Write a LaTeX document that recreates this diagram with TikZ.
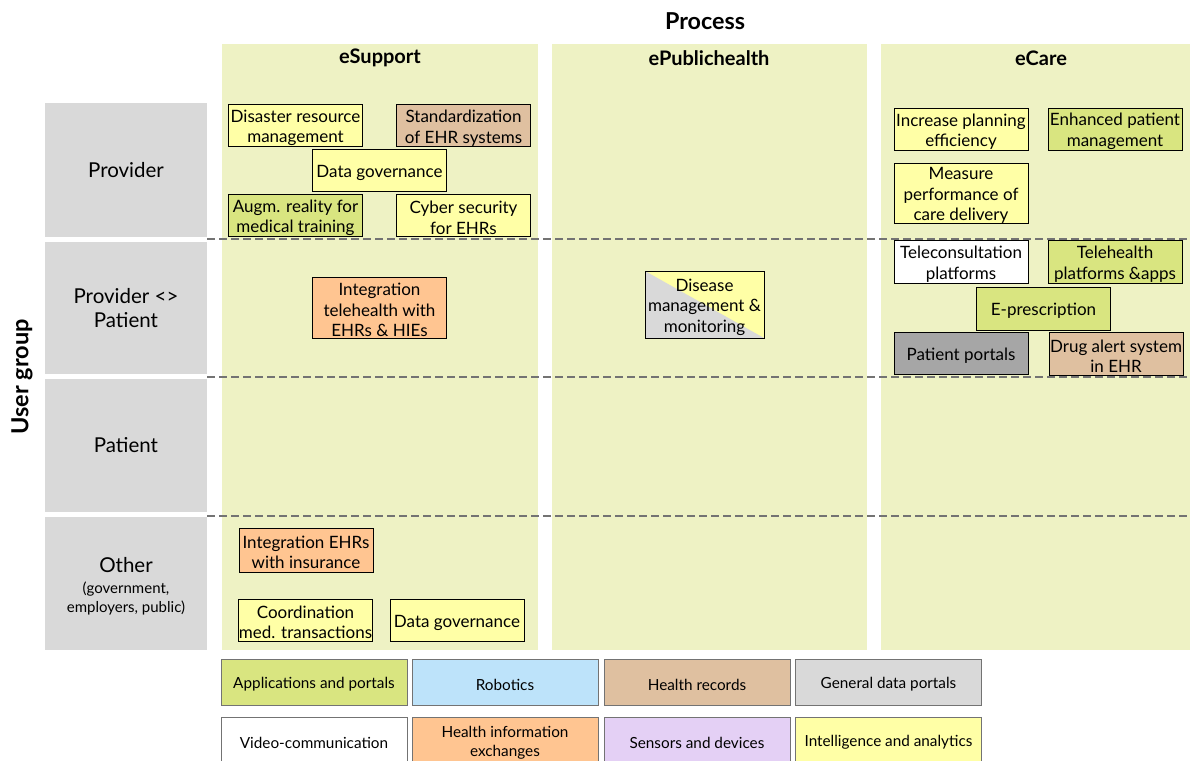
\documentclass[tikz,border=0pt]{standalone}
\usepackage{fontspec}
\setmainfont{Lato}
\begin{document}
\definecolor{panel}{RGB}{238,242,196}
\definecolor{rowgray}{RGB}{217,217,217}
\definecolor{cYellow}{RGB}{255,255,166}
\definecolor{cGreen}{RGB}{217,229,128}
\definecolor{cTan}{RGB}{223,192,160}
\definecolor{cOrange}{RGB}{255,197,145}
\definecolor{cBlue}{RGB}{189,227,250}
\definecolor{cLightGray}{RGB}{217,217,217}
\definecolor{cDarkGray}{RGB}{166,166,166}
\definecolor{cLavender}{RGB}{228,208,245}
\definecolor{sepgray}{RGB}{115,115,115}
\begin{tikzpicture}[x=1pt,y=-1pt,
  item/.style={draw=black,line width=0.8pt,inner sep=0pt,
    minimum width=134pt,minimum height=42pt},
  txt/.style={align=center,inner sep=0pt,yshift=-2.5pt,
    font=\fontsize{17}{20.5}\selectfont},
  legend/.style={draw=black!55,line width=1pt,inner sep=0pt,
    minimum width=186pt,minimum height=46pt},
  legtxt/.style={align=center,inner sep=0pt,yshift=-2.5pt,
    font=\fontsize{15.3}{19}\selectfont},
  rowlabel/.style={fill=rowgray,align=center,inner sep=0pt,
    minimum width=162pt,minimum height=134pt,
    font=\fontsize{20.5}{24}\selectfont},
  colhead/.style={font=\bfseries\fontsize{20}{24}\selectfont},
  sep/.style={draw=sepgray,line width=1.2pt,dash pattern=on 8pt off 4pt}]
\useasboundingbox (0,0) rectangle (1190,760);

% column panels
\fill[panel] (222,44) rectangle (538,650);
\fill[panel] (552,44) rectangle (867,650);
\fill[panel] (881,44) rectangle (1190,650);

% titles
\node[font=\bfseries\fontsize{23.3}{27}\selectfont] (process) at (705,21.5) {Process};
\node[colhead] (hsupport) at (380,58) {eSupport};
\node[colhead] (hpublic) at (709,58) {ePublichealth};
\node[colhead] (hcare) at (1041,58) {eCare};
\node[rotate=90,font=\bfseries\fontsize{23.5}{27}\selectfont] (usergroup) at (22,377) {User group};

% row labels
\node[rowlabel] (rprov) at (126,170) {Provider};
\node[rowlabel,minimum height=132pt] (rprovpat) at (126,308) {Provider <>\\Patient};
\node[rowlabel,minimum height=133pt] (rpat) at (126,445.5) {Patient};
\node[rowlabel,minimum height=133pt] (rother) at (126,583.5) {};
\node[align=center,inner sep=0pt,font=\fontsize{15}{19}\selectfont] (rothertxt) at (126,586)
  {{\fontsize{20.5}{24}\selectfont Other}\\[2pt](government,\\employers, public)};

% row separators
\coordinate (s1a) at (207,239); \coordinate (s1b) at (1190,239);
\coordinate (s2a) at (207,377); \coordinate (s2b) at (1190,377);
\coordinate (s3a) at (207,516); \coordinate (s3b) at (1190,516);
\draw[sep] (s1a) -- (s1b);
\draw[sep] (s2a) -- (s2b);
\draw[sep] (s3a) -- (s3b);

% eSupport
\node[item,fill=cYellow,label={[txt]center:{Disaster resource\\management}}] (disaster) at (295.5,125.5) {};
\node[item,fill=cTan,label={[txt]center:{Standardization\\of EHR systems}}] (standard) at (463.5,125.5) {};
\node[item,fill=cYellow,label={[txt]center:{Data governance}}] (govern1) at (379.5,170) {};
\node[item,fill=cGreen,label={[txt]center:{Augm. reality for\\medical training}}] (augm) at (295.5,215.5) {};
\node[item,fill=cYellow,label={[txt]center:{Cyber security\\for EHRs}}] (cyber) at (463.5,215.5) {};
\node[item,fill=cOrange,minimum height=61pt,label={[txt]center:{Integration\\telehealth with\\EHRs \& HIEs}}] (integtele) at (379.5,307.5) {};
\node[item,fill=cOrange,minimum height=44pt,label={[txt]center:{Integration EHRs\\with insurance}}] (integins) at (306,550) {};
\node[item,fill=cYellow,label={[txt]center:{Coordination\\med. transactions}}] (coord) at (305.5,620) {};
\node[item,fill=cYellow,label={[txt]center:{Data governance}}] (govern2) at (457,620) {};

% ePublichealth: two-colour box split along its diagonal
\node[item,fill=cYellow,minimum width=119pt,minimum height=67pt,
  path picture={\fill[cLightGray] (path picture bounding box.north west)
    -- (path picture bounding box.south east)
    -- (path picture bounding box.south west) -- cycle;},
  label={[txt]center:{Disease\\management \&\\monitoring}}] (disease) at (704.5,304.5) {};

% eCare
\node[item,fill=cYellow,label={[txt]center:{Increase planning\\efficiency}}] (planning) at (961,129) {};
\node[item,fill=cGreen,label={[txt]center:{Enhanced patient\\management}}] (enhanced) at (1115,129) {};
\node[item,fill=cYellow,minimum height=60pt,label={[txt]center:{Measure\\performance of\\care delivery}}] (measure) at (961,193) {};
\node[item,fill=white,minimum height=43pt,label={[txt]center:{Teleconsultation\\platforms}}] (telecons) at (961,261.5) {};
\node[item,fill=cGreen,minimum height=43pt,label={[txt]center:{Telehealth\\platforms \&apps}}] (telehealth) at (1115,261.5) {};
\node[item,fill=cGreen,minimum height=43pt,label={[txt]center:{E-prescription}}] (eprescr) at (1043.5,308.5) {};
\node[item,fill=cDarkGray,label={[txt]center:{Patient portals}}] (portals) at (961,353) {};
\node[item,fill=cTan,minimum height=43pt,label={[txt]center:{Drug alert system\\in EHR}}] (drugalert) at (1116,353.5) {};

% legend
\node[legend,fill=cGreen,label={[legtxt]center:{Applications and portals}}] (lapps) at (314,682) {};
\node[legend,fill=cBlue,label={[legtxt]center:{Robotics}}] (lrobot) at (505,682) {};
\node[legend,fill=cTan,label={[legtxt]center:{Health records}}] (lrecords) at (697,682) {};
\node[legend,fill=cLightGray,label={[legtxt]center:{General data portals}}] (lgeneral) at (888.5,682) {};
\node[legend,fill=white,label={[legtxt]center:{Video-communication}}] (lvideo) at (314,740) {};
\node[legend,fill=cOrange,label={[legtxt]center:{Health information\\exchanges}}] (lhie) at (505,740) {};
\node[legend,fill=cLavender,label={[legtxt]center:{Sensors and devices}}] (lsensors) at (697,740) {};
\node[legend,fill=cYellow,label={[legtxt]center:{Intelligence and analytics}}] (lintel) at (888.5,740) {};
\end{tikzpicture}
\end{document}
